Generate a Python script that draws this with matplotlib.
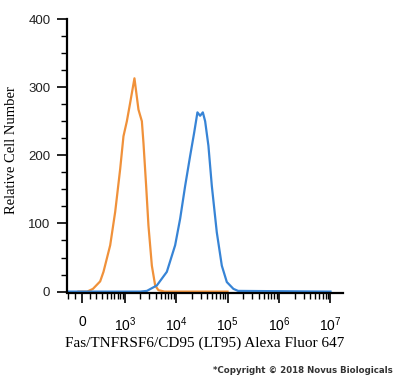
import numpy as np
import matplotlib
matplotlib.use("Agg")
import matplotlib.pyplot as plt

plt.rcParams['mathtext.fontset'] = 'custom'
plt.rcParams['mathtext.rm'] = 'Liberation Sans'
plt.rcParams['mathtext.it'] = 'Liberation Sans'

# histogram traces (fluorescence intensity, cell count)
orange_x = [-50, 68, 150, 268, 331, 482, 622, 793, 927, 1086, 1265, 1539,
            1848, 2154, 2316, 2613, 2898, 3378, 3918, 4539, 6000, 100000]
orange_y = [0, 0, 4, 15, 29, 68, 117, 180, 228, 250, 277, 313,
            267, 250, 218, 155, 97, 38, 9, 2, 0, 0]

blue_x = [-220, 2000, 2700, 4225, 6612, 9585, 12000, 15000, 18750, 22440,
          26000, 29300, 33100, 36700, 42500, 49500, 61800, 77400, 96800,
          130000, 160000, 10000000]
blue_y = [0, 0, 1, 9, 29, 68, 107, 155, 199, 233,
          263, 258, 263, 250, 214, 155, 87, 38, 14,
          4, 1, 0]

xticks = [0, 1e3, 1e4, 1e5, 1e6, 1e7]
xticklabels = ['0', '$10^{3}$', '$10^{4}$', '$10^{5}$', '$10^{6}$', '$10^{7}$']
yticks = [0, 100, 200, 300, 400]

W = 300.0
def fwd(x):
    return np.arcsinh(np.asarray(x) / W) / np.log(10)
def inv(y):
    return W * np.sinh(np.asarray(y) * np.log(10))

fig = plt.figure(figsize=(4, 3.78), dpi=100)
ax = fig.add_axes([0.1675, 0.225, 0.69, 0.7247])
ax.set_xscale('function', functions=(fwd, inv))

ax.plot(orange_x, orange_y, color='#f0913a', lw=1.6)
ax.plot(blue_x, blue_y, color='#3784d6', lw=1.6)

ax.set_xlim(-220, 1.75e7)
ax.set_ylim(-2, 400)

ax.set_xticks(xticks)
ax.set_xticklabels(xticklabels, fontsize=10, fontfamily='Liberation Sans')
minors = [-200, -100, 100, 200, 300, 400, 500, 600, 700, 800, 900]
for d in [1e3, 1e4, 1e5, 1e6]:
    minors += [d * k for k in range(2, 10)]
ax.set_xticks(minors, minor=True)
ax.set_yticks(yticks)
ax.set_yticks(np.arange(0, 401, 25), minor=True)
ax.set_yticklabels([str(v) for v in yticks], fontsize=9.5, fontfamily='Liberation Sans', color='#222222')

ax.tick_params(axis='x', which='major', length=7, width=1.2, pad=9)
ax.tick_params(axis='x', which='minor', length=4, width=1)
ax.tick_params(axis='y', which='major', length=7, width=1.2, pad=5)
ax.tick_params(axis='y', which='minor', length=4, width=1)

for s in ['top', 'right']:
    ax.spines[s].set_visible(False)
ax.spines['left'].set_linewidth(1.6)
ax.spines['bottom'].set_linewidth(1.6)
ax.spines['left'].set_bounds(0, 400)

ax.set_ylabel('Relative Cell Number', fontsize=10.5, fontfamily='Liberation Serif')
ax.yaxis.set_label_coords(-0.178, 0.52)
ax.set_xlabel('Fas/TNFRSF6/CD95 (LT95) Alexa Fluor 647', fontsize=11,
              fontfamily='Liberation Serif', labelpad=2)

fig.text(0.983, 0.008, '*Copyright \u00a9 2018 Novus Biologicals', ha='right', va='bottom',
         fontsize=6.2, fontweight='bold', color='#333333', fontfamily='DejaVu Sans')

fig.savefig('out.png', dpi=100)
